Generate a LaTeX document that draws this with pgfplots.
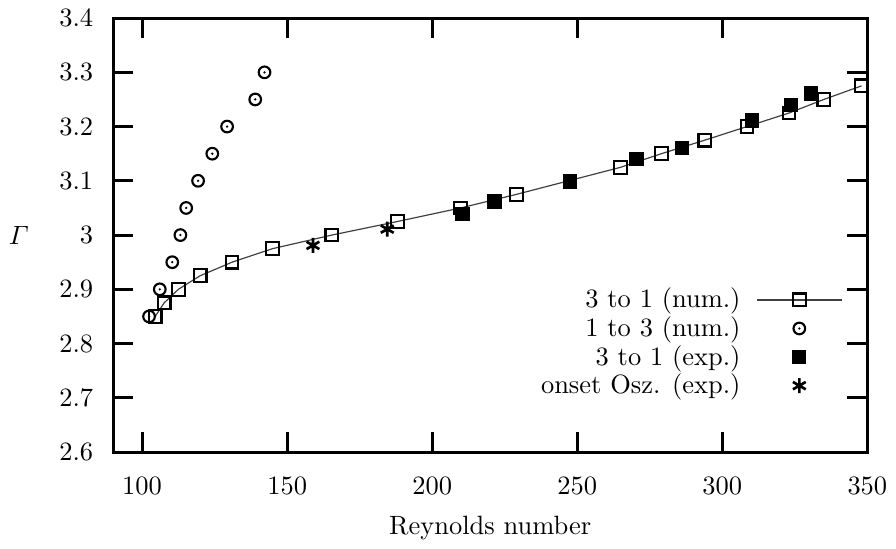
\documentclass[border=0pt]{standalone}
\usepackage{amsmath}
\usepackage{pgfplots}
\pgfplotsset{compat=1.18}
\pgfdeclareplotmark{odot}{%
  \pgfpathcircle{\pgfpointorigin}{\pgfplotmarksize}\pgfusepathqstroke
  \pgfpathcircle{\pgfpointorigin}{0.22\pgfplotmarksize}\pgfusepathqfill}
\begin{document}
\begin{tikzpicture}
\begin{axis}[
  scale only axis,
  width=285pt, height=164pt,
  xmin=90, xmax=350, ymin=2.6, ymax=3.4,
  xtick={100,150,...,350},
  ytick={2.6,2.7,2.8,2.9,3.0,3.1,3.2,3.3,3.4},
  yticklabels={2.6,2.7,2.8,2.9,3,3.1,3.2,3.3,3.4},
  yticklabel style={xshift=-4pt},
  xticklabel style={yshift=-6pt},
  tick pos=both, tick align=inside,
  major tick length=7.5pt,
  axis line style={line width=1.1pt},
  tick style={line width=1.1pt, black},
  xlabel={Reynolds number},
  ylabel={$\varGamma$},
  ylabel style={at={(axis description cs:-0.125,0.5)}, rotate=-90, anchor=center},
  xlabel style={at={(axis description cs:0.5,-0.175)}, anchor=center},
  legend plot pos=right,
  legend cell align=right,
  legend style={at={(0.978,0.1)}, anchor=south east, draw=none, fill=none, row sep=-2.2pt},
  legend image code/.code={\path (0pt,0pt); \draw[mark repeat=2,mark phase=2,#1] plot coordinates {(4pt,0pt) (20pt,0pt) (36pt,0pt)};},
]
\addplot[black!75, line width=0.45pt, mark=square, mark size=2.4pt, mark options={black, solid, line width=0.8pt}] coordinates {
(104.5,2.85) (107.6,2.875) (112.5,2.9) (120,2.925) (131,2.95) (145,2.975) (165.4,3.0) (188,3.025) (209.8,3.05) (229,3.075) (265,3.125) (279,3.15) (294,3.175) (308.5,3.2) (323,3.225) (335,3.25) (348,3.275)};
\addlegendentry{3 to 1 (num.)}
\addplot[only marks, mark=odot, mark size=2.2pt, mark options={black, line width=0.8pt}] coordinates {
(102.4,2.85) (106.1,2.9) (110.4,2.95) (113.2,3.0) (115.2,3.05) (119.3,3.1) (124.2,3.15) (129.3,3.2) (139,3.25) (142.2,3.3)};
\addlegendentry{1 to 3 (num.)}
\addplot[only marks, mark=square*, mark size=2.5pt, mark options={black}] coordinates {
(210.4,3.039) (221.5,3.062) (247.5,3.099) (270.4,3.14) (286.2,3.161) (310.3,3.211) (323.7,3.24) (330.6,3.261)};
\addlegendentry{3 to 1 (exp.)}
\addplot[only marks, mark=asterisk, mark size=2.8pt, mark options={black, line width=1pt}] coordinates {
(158.9,2.981) (184.5,3.011)};
\addlegendentry{onset Osz. (exp.)}
\end{axis}
\end{tikzpicture}
\end{document}
